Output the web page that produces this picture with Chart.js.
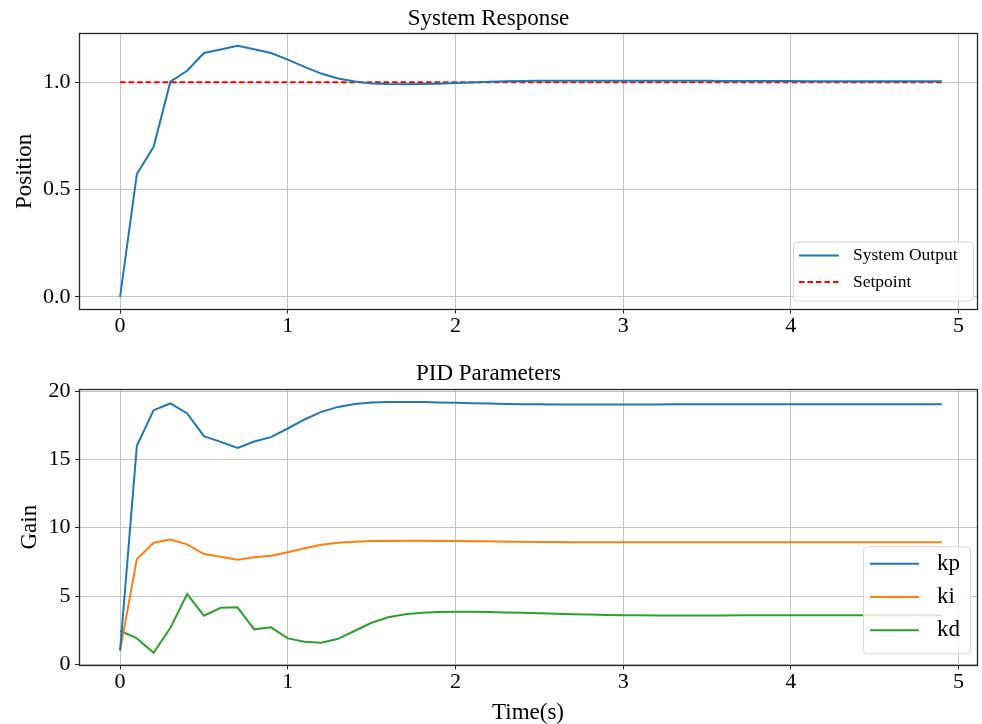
<!DOCTYPE html>
<html>
<head>
<meta charset="utf-8">
<script src="https://cdn.jsdelivr.net/npm/chart.js@4.4.1/dist/chart.umd.min.js"></script>
<style>
  html, body { margin: 0; padding: 0; background: #ffffff; overflow: hidden; }
  #wrap { position: relative; width: 982px; height: 724px; background: #ffffff; }
  canvas { position: absolute; left: 0; }
  #c1 { top: 0; }
  #c2 { top: 362px; }
</style>
</head>
<body>
<div id="wrap">
  <canvas id="c1" width="982" height="362"></canvas>
  <canvas id="c2" width="982" height="362"></canvas>
</div>
<script>
// ---------- data ----------
const time = [0.0, 0.1, 0.2, 0.3, 0.4, 0.5, 0.6, 0.7, 0.8, 0.9,
              1.0, 1.1, 1.2, 1.3, 1.4, 1.5, 1.6, 1.7, 1.8, 1.9,
              2.0, 2.1, 2.2, 2.3, 2.4, 2.5, 2.6, 2.7, 2.8, 2.9,
              3.0, 3.1, 3.2, 3.3, 3.4, 3.5, 3.6, 3.7, 3.8, 3.9,
              4.0, 4.1, 4.2, 4.3, 4.4, 4.5, 4.6, 4.7, 4.8, 4.9];

const systemOutput = [0.000, 0.572, 0.699, 1.002, 1.053, 1.136, 1.152, 1.169, 1.153, 1.136,
                      1.105, 1.071, 1.040, 1.017, 1.003, 0.994, 0.991, 0.990, 0.991, 0.993,
                      0.996, 0.999, 1.002, 1.004, 1.005, 1.006, 1.007, 1.007, 1.007, 1.007,
                      1.007, 1.007, 1.006, 1.006, 1.006, 1.006, 1.005, 1.005, 1.005, 1.005,
                      1.005, 1.004, 1.004, 1.004, 1.004, 1.004, 1.004, 1.004, 1.004, 1.004];

const setpoint = 1.0;

const kp = [1.00, 15.99, 18.60, 19.09, 18.36, 16.70, 16.28, 15.84, 16.31, 16.63,
            17.26, 17.92, 18.48, 18.84, 19.06, 19.17, 19.19, 19.20, 19.19, 19.17,
            19.14, 19.11, 19.08, 19.06, 19.04, 19.03, 19.02, 19.02, 19.02, 19.02,
            19.02, 19.02, 19.02, 19.03, 19.03, 19.03, 19.03, 19.03, 19.04, 19.04,
            19.04, 19.04, 19.04, 19.04, 19.04, 19.04, 19.04, 19.04, 19.04, 19.04];

const ki = [1.00, 7.70, 8.90, 9.14, 8.78, 8.07, 7.87, 7.65, 7.83, 7.94,
            8.21, 8.49, 8.75, 8.90, 8.97, 9.02, 9.03, 9.04, 9.04, 9.03,
            9.02, 9.01, 9.00, 8.98, 8.97, 8.96, 8.95, 8.94, 8.94, 8.93,
            8.93, 8.93, 8.93, 8.93, 8.93, 8.93, 8.93, 8.93, 8.93, 8.93,
            8.93, 8.93, 8.93, 8.93, 8.93, 8.93, 8.93, 8.93, 8.93, 8.93];

const kd = [2.46, 1.90, 0.85, 2.68, 5.14, 3.56, 4.14, 4.17, 2.56, 2.71,
            1.90, 1.65, 1.58, 1.87, 2.46, 3.04, 3.44, 3.66, 3.78, 3.83,
            3.85, 3.85, 3.83, 3.80, 3.77, 3.73, 3.70, 3.67, 3.64, 3.62,
            3.60, 3.59, 3.58, 3.58, 3.58, 3.58, 3.58, 3.59, 3.59, 3.60,
            3.60, 3.60, 3.60, 3.60, 3.60, 3.60, 3.60, 3.60, 3.60, 3.60];

const xTicks = [0, 1, 2, 3, 4, 5];
const yTicksTop = [0.0, 0.5, 1.0];
const yTicksBottom = [0, 5, 10, 15, 20];

// ---------- helpers ----------
const FONT = "'Liberation Serif', 'Times New Roman', serif";
const pts = (arr) => time.map((t, i) => ({ x: t, y: arr[i] }));

const framePlugin = {
  id: 'frame',
  afterDatasetsDraw(chart) {
    const a = chart.chartArea;
    const ctx = chart.ctx;
    ctx.save();
    ctx.strokeStyle = '#262626';
    ctx.lineWidth = 1.3;
    ctx.strokeRect(Math.round(a.left) + 0.5, Math.round(a.top) + 0.5,
                   Math.round(a.right - a.left), Math.round(a.bottom - a.top));
    ctx.restore();
  }
};

const boxLegendPlugin = {
  id: 'boxLegend',
  afterDraw(chart, args, o) {
    const a = chart.chartArea;
    const ctx = chart.ctx;
    const x0 = a.right - o.right - o.width;
    const y0 = a.bottom - o.bottom - o.height;
    ctx.save();
    ctx.beginPath();
    ctx.roundRect(x0 + 0.5, y0 + 0.5, o.width, o.height, 4);
    ctx.fillStyle = 'rgba(255,255,255,0.8)';
    ctx.fill();
    ctx.strokeStyle = '#d6d6d6';
    ctx.lineWidth = 1;
    ctx.stroke();
    chart.data.datasets.forEach((ds, i) => {
      const y = y0 + o.rows[i];
      ctx.beginPath();
      ctx.strokeStyle = ds.borderColor;
      ctx.lineWidth = ds.borderWidth;
      ctx.setLineDash(ds.borderDash || []);
      ctx.moveTo(x0 + o.handleStart, y);
      ctx.lineTo(x0 + o.handleEnd, y);
      ctx.stroke();
      ctx.setLineDash([]);
      ctx.fillStyle = '#000000';
      ctx.font = o.fontSize + 'px ' + FONT;
      ctx.textAlign = 'left';
      ctx.textBaseline = 'middle';
      ctx.fillText(ds.label, x0 + o.textStart, y);
    });
    ctx.restore();
  }
};

function xScale(withTitle) {
  return {
    type: 'linear',
    min: -0.245,
    max: 5.11,
    afterBuildTicks: (s) => { s.ticks = xTicks.map(v => ({ value: v })); },
    afterFit: (s) => { s.height = withTitle ? 58.7 : 52.5; },
    grid: { color: '#c4c4c4', lineWidth: 1, tickLength: 4, tickColor: '#262626', drawTicks: true },
    border: { display: false },
    ticks: {
      color: '#000000',
      font: { family: FONT, size: 22, lineHeight: 1.0 },
      padding: 1.5,
      maxRotation: 0,
      autoSkip: false,
      callback: (v) => String(v)
    },
    title: withTitle ? {
      display: true, text: 'Time(s)', color: '#000000',
      font: { family: FONT, size: 23, lineHeight: 1.0 },
      padding: { top: 0, bottom: 0 }
    } : { display: false }
  };
}

function yScale(min, max, ticks, fmt, label, titlePad) {
  return {
    type: 'linear',
    min: min,
    max: max,
    afterBuildTicks: (s) => { s.ticks = ticks.map(v => ({ value: v })); },
    afterFit: (s) => { s.width = 79; },
    grid: { color: '#c4c4c4', lineWidth: 1, tickLength: 4, tickColor: '#262626', drawTicks: true },
    border: { display: false },
    ticks: {
      color: '#000000',
      font: { family: FONT, size: 22, lineHeight: 1.0 },
      padding: 4.5,
      autoSkip: false,
      callback: fmt
    },
    title: {
      display: true, text: label, color: '#000000',
      font: { family: FONT, size: 23, lineHeight: 1.0 },
      padding: { top: titlePad, bottom: 0 }
    }
  };
}

Chart.defaults.animation = false;

// ---------- top chart ----------
new Chart(document.getElementById('c1'), {
  type: 'line',
  data: {
    datasets: [
      { label: 'System Output', data: pts(systemOutput), borderColor: '#1f77b4', borderWidth: 2,
        pointRadius: 0, tension: 0, fill: false },
      { label: 'Setpoint', data: time.map(t => ({ x: t, y: setpoint })), borderColor: '#ff0000',
        borderWidth: 2, borderDash: [5.5, 3], pointRadius: 0, tension: 0, fill: false }
    ]
  },
  options: {
    responsive: false,
    animation: false,
    layout: { padding: { left: 0, right: 5, top: 0, bottom: 0 } },
    plugins: {
      legend: { display: false },
      tooltip: { enabled: false },
      title: {
        display: true, text: 'System Response', color: '#000000',
        font: { family: FONT, size: 23, weight: 'normal', lineHeight: 1.0 },
        padding: { top: 7.5, bottom: 2.8 }
      },
      boxLegend: { right: 4, bottom: 9, width: 180, height: 59, fontSize: 17.5,
                   rows: [14, 40.5], handleStart: 6, handleEnd: 46, textStart: 60 }
    },
    scales: {
      x: xScale(false),
      y: yScale(-0.0585, 1.2275, yTicksTop, (v) => v.toFixed(1), 'Position', 13.5)
    }
  },
  plugins: [framePlugin, boxLegendPlugin]
});

// ---------- bottom chart ----------
new Chart(document.getElementById('c2'), {
  type: 'line',
  data: {
    datasets: [
      { label: 'kp', data: pts(kp), borderColor: '#1f77b4', borderWidth: 2, pointRadius: 0, tension: 0, fill: false },
      { label: 'ki', data: pts(ki), borderColor: '#ff7f0e', borderWidth: 2, pointRadius: 0, tension: 0, fill: false },
      { label: 'kd', data: pts(kd), borderColor: '#2ca02c', borderWidth: 2, pointRadius: 0, tension: 0, fill: false }
    ]
  },
  options: {
    responsive: false,
    animation: false,
    layout: { padding: { left: 0, right: 5, top: 0, bottom: 0 } },
    plugins: {
      legend: { display: false },
      tooltip: { enabled: false },
      title: {
        display: true, text: 'PID Parameters', color: '#000000',
        font: { family: FONT, size: 23, weight: 'normal', lineHeight: 1.0 },
        padding: { top: 0, bottom: 4 }
      },
      boxLegend: { right: 7, bottom: 12, width: 107, height: 107, fontSize: 23,
                   rows: [17.5, 50.8, 84], handleStart: 7, handleEnd: 56, textStart: 74 }
    },
    scales: {
      x: xScale(true),
      y: yScale(-0.07, 20.15, yTicksBottom, (v) => String(v), 'Gain', 18.5)
    }
  },
  plugins: [framePlugin, boxLegendPlugin]
});
</script>
</body>
</html>
